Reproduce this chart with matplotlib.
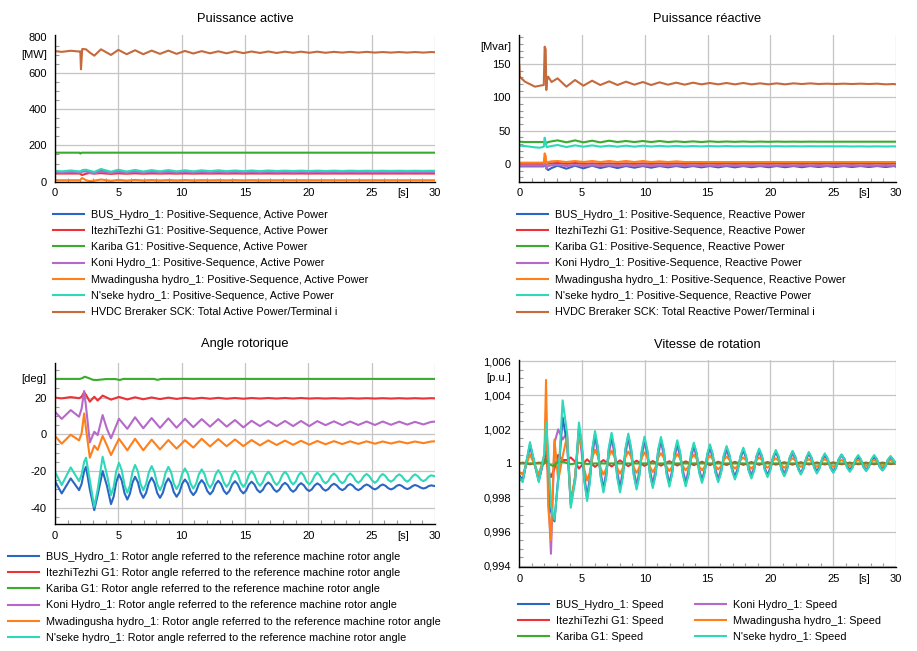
import matplotlib
matplotlib.use('Agg')
import matplotlib.pyplot as plt
from matplotlib.ticker import MultipleLocator

plt.rcParams['font.family'] = ['Liberation Sans', 'DejaVu Sans']
plt.rcParams['font.size'] = 8

# ---------------- colours ----------------
C_BLUE = '#2a66c4'
C_RED = '#ec3237'
C_GREEN = '#3aab2c'
C_PURPLE = '#b669c9'
C_ORANGE = '#ff7f1a'
C_CYAN = '#2fd8b8'
C_BROWN = '#c46a3c'

# ---------------- Active power (MW) ----------------
t_p = [0.0, 0.53, 1.24, 1.9, 2.0, 2.05, 2.15, 2.45, 2.75, 3.1, 3.63, 4.42, 5.0, 5.66, 6.32, 6.97,
       7.63, 8.29, 8.95, 9.6, 10.26, 10.92, 11.58, 12.24, 12.89, 13.55, 14.21, 14.87, 15.52, 16.18,
       16.84, 17.5, 18.16, 18.8, 19.42, 20.07, 20.71, 21.36, 22.02, 22.68, 23.3, 23.94, 24.6, 25.26,
       25.87, 26.52, 27.18, 27.81, 28.42, 29.08, 29.7, 30.0]
p_bus = [54, 51, 56, 51, 52, 50, 58, 60, 52, 47, 62, 48, 59, 49, 58, 50, 57, 50, 57, 51,
         56, 51, 56, 52, 56, 52, 55, 52, 55, 52, 55, 53, 55, 53, 55, 53, 54.5, 53, 54.5, 53,
         54.5, 53.5, 54.5, 53.5, 54.5, 53.5, 54.5, 53.5, 54.5, 53.5, 54.5, 54]
p_itezhi = [45, 45, 45, 45, 45, 40, 37, 44, 48, 45, 47, 43, 46, 44, 46, 44, 45.5, 44.5, 45.5, 44.5,
            45.5, 44.5, 45.3, 44.7, 45.3, 44.7, 45.3, 44.7, 45.2, 44.8, 45.2, 44.8, 45.2, 44.8, 45.2,
            44.8, 45.1, 44.9, 45.1, 44.9, 45.1, 44.9, 45.1, 44.9, 45, 45, 45, 45, 45, 45, 45, 45]
t_p_kariba = [0.0, 1.95, 2.0, 2.1, 30.0]
p_kariba = [160, 160, 155, 160, 160]
p_koni = [52, 50, 53, 50, 51, 48, 56, 57, 48, 45, 58, 47, 56, 48, 55, 49, 55, 49, 54, 50,
          54, 50, 54, 50, 54, 50, 53.5, 50.5, 53.5, 50.5, 53.5, 51, 53, 51, 53, 51, 53, 51, 52.5, 51.5,
          52.5, 51.5, 52.5, 51.5, 52.5, 51.5, 52.5, 51.5, 52.5, 51.5, 52.5, 52]
p_mwad = [8, 8, 8, 8, 8, 14, 20, 8, 3, 6, 12, 5, 10, 6, 10, 7, 9, 7, 9, 7,
          9, 7, 8.5, 7.5, 8.5, 7.5, 8.5, 7.5, 8.5, 7.5, 8, 8, 8, 8, 8, 8, 8, 8, 8, 8,
          8, 8, 8, 8, 8, 8, 8, 8, 8, 8, 8, 8]
p_nseke = [60, 57, 62, 57, 58, 55, 64, 66, 60, 54, 70, 55, 66, 56, 65, 56, 64, 57, 64, 57,
           63, 57, 63, 58, 63, 58, 62, 58, 62, 58, 62, 59, 61, 59, 61, 59, 61, 59, 61, 59,
           61, 59.5, 60.5, 59.5, 60.5, 59.5, 60.5, 59.5, 60.5, 59.5, 60.5, 60]
p_hvdc = [720, 716, 722, 718, 719, 620, 732, 730, 712, 695, 730, 699, 727, 703, 725, 703, 723, 705,
          723, 705, 721, 707, 720, 708, 719, 708, 719, 709, 718, 710, 718, 710, 717, 711, 717, 711,
          717, 711, 716, 712, 716, 712, 716, 712, 715, 712, 715, 712, 715, 712, 715, 714]

# ---------------- Reactive power (Mvar) ----------------
t_q = [0.0, 0.03, 0.45, 1.25, 1.65, 1.95, 2.02, 2.1, 2.15, 2.2, 2.3, 2.57, 3.05, 3.75, 4.44, 5.1,
       5.8, 6.45, 7.16, 7.82, 8.5, 9.17, 9.84, 10.5, 11.17, 11.84, 12.5, 13.17, 13.84, 14.5, 15.17,
       15.84, 16.5, 17.17, 17.84, 18.5, 19.17, 19.84, 20.5, 21.17, 21.84, 22.5, 23.17, 23.84, 24.5,
       25.17, 25.84, 26.5, 27.17, 27.84, 28.5, 29.17, 29.84, 30.0]
q_bus = [-3.5, -3.5, -3.5, -3.5, -3.5, -3.5, 2.0, -2.0, -5.0, -7.5,
         -9.0, -6.0, -2.5, -7.0, -2.5, -6.5, -2.5, -6.0, -3.0, -6.0,
         -3.0, -5.5, -3.0, -5.5, -3.0, -5.0, -3.0, -5.0, -3.0, -5.0,
         -3.0, -5.0, -3.0, -5.0, -3.0, -4.8, -3.0, -4.8, -3.0, -4.8,
         -3.0, -4.8, -3.0, -4.5, -3.0, -4.5, -3.0, -4.5, -3.0, -4.5,
         -3.0, -4.5, -3.0, -4.0]
q_itezhi = [0.5, 0.5, 0.5, 0.5, 0.5, 0.5, 8.0, 5.0, -1.0, 0.0,
            1.0, 1.0, 1.5, 0.5, 1.5, 0.5, 1.0, 0.5, 1.0, 0.5,
            1.0, 0.5, 1.0, 0.5, 1.0, 0.5, 1.0, 0.5, 1.0, 0.5,
            1.0, 0.5, 1.0, 0.5, 1.0, 0.5, 1.0, 0.5, 1.0, 0.5,
            1.0, 0.5, 1.0, 0.5, 1.0, 0.5, 1.0, 0.5, 1.0, 0.5,
            1.0, 0.5, 1.0, 0.5]
q_kariba = [33.5, 33.5, 33.0, 33.0, 33.0, 33.0, 34.0, 32.0, 31.5, 32.0,
            33.0, 34.0, 35.5, 32.5, 35.5, 32.5, 35.0, 32.5, 35.0, 33.0,
            34.5, 33.0, 34.5, 33.0, 34.5, 33.0, 34.0, 33.0, 34.0, 33.0,
            34.0, 33.2, 33.8, 33.3, 33.8, 33.3, 33.7, 33.3, 33.7, 33.4,
            33.6, 33.4, 33.6, 33.5, 33.5, 33.5, 33.5, 33.5, 33.5, 33.5,
            33.5, 33.5, 33.5, 33.5]
q_koni = [-2.5, -2.5, -2.5, -2.5, -2.5, -2.5, 6.0, 2.0, -7.0, -5.0,
          -3.0, -2.0, -1.5, -3.0, -1.5, -3.0, -2.0, -3.0, -2.0, -3.0,
          -2.0, -2.8, -2.2, -2.8, -2.2, -2.8, -2.2, -2.7, -2.3, -2.7,
          -2.3, -2.7, -2.3, -2.6, -2.4, -2.6, -2.4, -2.6, -2.4, -2.5,
          -2.5, -2.5, -2.5, -2.5, -2.5, -2.5, -2.5, -2.5, -2.5, -2.5,
          -2.5, -2.5, -2.5, -2.5]
q_mwad = [2.0, 2.0, 2.0, 2.0, 2.0, 2.0, 16.0, 12.0, 2.0, 0.5,
          3.0, 4.0, 4.5, 3.0, 4.5, 3.0, 4.5, 3.0, 4.5, 3.0,
          4.5, 3.0, 4.5, 3.0, 4.0, 3.0, 4.0, 3.0, 3.0, 3.0,
          3.0, 3.0, 3.0, 3.0, 3.0, 3.0, 3.0, 3.0, 3.0, 3.0,
          3.0, 3.0, 3.0, 3.0, 3.0, 3.0, 3.0, 3.0, 3.0, 3.0,
          3.0, 3.0, 3.0, 3.0]
q_nseke = [27.5, 27.5, 27.0, 25.0, 24.5, 26.0, 39.5, 33.0, 27.0, 25.0,
           26.0, 27.0, 28.5, 25.5, 28.0, 26.0, 28.0, 26.0, 27.5, 26.0,
           27.5, 26.0, 27.5, 26.2, 27.3, 26.3, 27.2, 26.3, 27.0, 26.4,
           27.0, 26.5, 27.0, 26.5, 26.8, 26.5, 26.8, 26.5, 26.8, 26.5,
           26.7, 26.5, 26.7, 26.5, 26.6, 26.5, 26.6, 26.3, 26.5, 26.3,
           26.5, 26.3, 26.5, 26.3]
q_hvdc = [148, 131, 123.5, 116, 117.5, 118.5, 176, 172, 111, 125,
          131, 123, 128.5, 116, 126, 117.5, 125, 118.5, 124, 118.5,
          123.5, 119, 123, 118.5, 122.5, 119, 122, 119, 122, 119.5,
          121.5, 119.5, 121.5, 119.5, 121.5, 119.5, 121, 119.5, 121, 119.5,
          121, 120, 121, 120, 120.5, 120, 120.5, 120, 120.5, 120,
          120.5, 119.5, 120, 119.5]

# ---------------- Rotor angle (deg) ----------------
t_ang = [0.0, 0.53, 1.24, 1.9, 2.1, 2.3, 2.45, 2.75, 3.1, 3.37, 3.76, 4.1, 4.42, 5.05, 5.71, 6.32,
         6.97, 7.63, 8.29, 8.95, 9.6, 10.26, 10.92, 11.58, 12.24, 12.89, 13.55, 14.21, 14.87, 15.52,
         16.18, 16.84, 17.5, 18.16, 18.8, 19.42, 20.07, 20.71, 21.36, 22.02, 22.68, 23.3, 23.94,
         24.6, 25.26, 25.87, 26.52, 27.18, 27.81, 28.42, 29.08, 29.7, 30.0]
t_ang_fine = [0.0, 0.53, 1.24, 1.9, 2.1, 2.3, 2.45, 2.75, 3.1, 3.37, 3.76, 4.1,
              4.42, 4.63, 4.84, 5.05, 5.27, 5.49, 5.71, 5.91, 6.12, 6.32, 6.54, 6.75,
              6.97, 7.19, 7.41, 7.63, 7.85, 8.07, 8.29, 8.51, 8.73, 8.95, 9.17, 9.38,
              9.6, 9.82, 10.04, 10.26, 10.48, 10.7, 10.92, 11.14, 11.36, 11.58, 11.8, 12.02,
              12.24, 12.46, 12.67, 12.89, 13.11, 13.33, 13.55, 13.77, 13.99, 14.21, 14.43, 14.65,
              14.87, 15.09, 15.3, 15.52, 15.74, 15.96, 16.18, 16.4, 16.62, 16.84, 17.06, 17.28,
              17.5, 17.72, 17.94, 18.16, 18.37, 18.59, 18.8, 19.01, 19.21, 19.42, 19.64, 19.85,
              20.07, 20.28, 20.5, 20.71, 20.93, 21.14, 21.36, 21.58, 21.8, 22.02, 22.24, 22.46,
              22.68, 22.89, 23.09, 23.3, 23.51, 23.73, 23.94, 24.16, 24.38, 24.6, 24.82, 25.04,
              25.26, 25.46, 25.67, 25.87, 26.09, 26.3, 26.52, 26.74, 26.96, 27.18, 27.39, 27.6,
              27.81, 28.01, 28.22, 28.42, 28.64, 28.86, 29.08, 29.29, 29.49, 29.7, 30.0]
ang_bus = [-25.5, -32.2, -24.0, -30.4, -27.0, -20.0, -17.7, -30.0, -41.3, -33.0, -20.0, -28.0,
           -38.0, -34.0, -25.9, -21.8, -25.2, -32.1, -35.5, -32.4, -26.2, -23.1, -26.0, -31.7,
           -34.6, -31.9, -26.4, -23.6, -26.4, -31.9, -34.6, -31.9, -26.7, -24.0, -26.5, -31.5,
           -34.0, -31.7, -26.9, -24.6, -26.7, -31.0, -33.1, -31.1, -27.0, -24.9, -26.9, -30.8,
           -32.7, -30.9, -27.2, -25.3, -27.1, -30.7, -32.5, -30.8, -27.3, -25.5, -27.2, -30.5,
           -32.2, -30.6, -27.4, -25.8, -27.3, -30.2, -31.6, -30.3, -27.6, -26.2, -27.5, -30.0,
           -31.3, -30.1, -27.6, -26.4, -27.6, -30.1, -31.3, -30.1, -27.8, -26.6, -27.7, -29.8,
           -30.9, -29.9, -27.8, -26.7, -27.7, -29.7, -30.7, -29.8, -27.9, -26.9, -27.8, -29.5,
           -30.4, -29.6, -27.9, -27.1, -27.9, -29.6, -30.4, -29.6, -28.1, -27.3, -28.0, -29.3,
           -30.0, -29.3, -28.0, -27.3, -28.0, -29.3, -30.0, -29.4, -28.1, -27.5, -28.1, -29.2,
           -29.8, -29.3, -28.2, -27.6, -28.1, -29.0, -29.5, -29.1, -28.2, -27.8, -28.2]
ang_itezhi = [20.0, 19.6, 20.3, 19.7, 20.5, 22.9, 21.5, 17.8, 20.5, 18.4,
              21.1, 20.0, 18.9, 20.4, 19.0, 20.2, 19.1, 20.1, 19.2, 20.0,
              19.3, 19.9, 19.4, 19.9, 19.4, 19.9, 19.4, 19.8, 19.4, 19.8,
              19.5, 19.8, 19.5, 19.8, 19.5, 19.8, 19.5, 19.7, 19.5, 19.7,
              19.5, 19.7, 19.5, 19.7, 19.5, 19.7, 19.5, 19.7, 19.5, 19.7,
              19.5, 19.7, 19.6]
t_ang_kariba = [0.0, 1.95, 2.15, 2.35, 2.6, 3.0, 3.3, 4.0, 4.8, 5.1, 5.4, 7.8, 8.1, 8.4, 30.0]
ang_kariba = [30.2, 30.2, 30.6, 31.4, 30.8, 29.7, 29.6, 30.1, 30.1, 29.6, 30.2, 30.2, 29.7, 30.2, 30.2]
ang_koni = [12.3, 8.4, 13.2, 9.6, 14.0, 23.6, 15.0, -4.4, 1.4, -0.4,
            10.5, 3.0, -2.2, 8.5, 3.0, 9.3, 3.3, 8.9, 3.5, 8.7,
            3.6, 8.5, 3.9, 8.3, 4.2, 8.3, 4.2, 7.8, 3.8, 7.4,
            4.5, 7.3, 4.5, 7.3, 4.5, 7.3, 4.5, 7.2, 5.0, 7.1,
            5.0, 7.0, 5.1, 7.0, 5.1, 7.0, 5.2, 6.9, 5.3, 6.8,
            5.4, 6.8, 6.9]
ang_mwad = [-0.9, -5.1, -0.2, -3.3, 0.5, 11.4, 3.0, -12.7, -6.2, -8.5,
            -0.9, -6.0, -11.3, -2.4, -8.7, -2.4, -8.7, -2.9, -8.2, -3.1,
            -7.8, -3.2, -7.2, -2.4, -6.6, -2.6, -6.5, -2.8, -6.4, -3.1,
            -6.0, -3.3, -5.8, -3.4, -5.7, -3.5, -5.6, -3.6, -5.4, -3.7,
            -5.3, -3.8, -5.2, -3.8, -5.1, -3.9, -5.0, -3.9, -4.9, -3.9,
            -4.8, -3.9, -3.8]
ang_nseke = [-20.4, -27.6, -18.0, -25.5, -22.0, -15.0, -12.7, -25.0, -39.5, -30.0, -12.2, -22.0,
             -33.1, -28.7, -19.9, -15.5, -19.6, -27.7, -31.8, -28.0, -20.5, -16.7, -20.1, -27.0,
             -30.4, -27.1, -20.6, -17.3, -20.6, -27.1, -30.4, -27.2, -20.9, -17.7, -20.7, -26.8,
             -29.8, -27.0, -21.4, -18.6, -21.3, -26.8, -29.5, -26.9, -21.7, -19.1, -21.6, -26.6,
             -29.1, -26.7, -21.9, -19.5, -21.8, -26.3, -28.6, -26.4, -22.0, -19.8, -22.0, -26.4,
             -28.6, -26.5, -22.2, -20.0, -22.0, -26.0, -28.0, -26.1, -22.3, -20.4, -22.2, -25.8,
             -27.6, -25.8, -22.2, -20.4, -22.1, -25.6, -27.3, -25.7, -22.4, -20.7, -22.4, -25.7,
             -27.3, -25.7, -22.5, -20.9, -22.4, -25.3, -26.7, -25.4, -22.7, -21.3, -22.7, -25.4,
             -26.7, -25.4, -22.7, -21.3, -22.6, -25.1, -26.4, -25.2, -22.8, -21.6, -22.8, -25.2,
             -26.4, -25.2, -22.8, -21.6, -22.7, -24.8, -25.8, -24.8, -22.8, -21.8, -22.8, -24.8,
             -25.8, -24.8, -22.8, -21.8, -22.7, -24.6, -25.5, -24.7, -23.1, -22.3, -22.9]

# ---------------- Speed (p.u.) ----------------
t_spd = [0.0, 0.27, 0.85, 1.55, 2.0, 2.13, 2.3, 2.52, 2.8, 3.1, 3.45, 3.8, 4.1, 4.45, 4.75, 5.4,
         6.03, 6.7, 7.35, 8.02, 8.68, 9.34, 9.97, 10.63, 11.28, 11.95, 12.58, 13.25, 13.9, 14.55,
         15.18, 15.84, 16.51, 17.17, 17.84, 18.48, 19.1, 19.77, 20.43, 21.1, 21.76, 22.42, 23.06,
         23.7, 24.33, 25.0, 25.66, 26.32, 26.99, 27.62, 28.26, 28.92, 29.57, 30.0]
t_spd_fine = [0.0, 0.27, 0.85, 1.55, 2.0, 2.13, 2.3, 2.52, 2.8, 3.1, 3.45, 3.8, 4.1, 4.45,
              4.75, 4.97, 5.18, 5.4, 5.61, 5.82, 6.03, 6.25, 6.48, 6.7, 6.92, 7.13,
              7.35, 7.57, 7.8, 8.02, 8.24, 8.46, 8.68, 8.9, 9.12, 9.34, 9.55, 9.76,
              9.97, 10.19, 10.41, 10.63, 10.85, 11.06, 11.28, 11.5, 11.73, 11.95, 12.16, 12.37,
              12.58, 12.8, 13.03, 13.25, 13.47, 13.68, 13.9, 14.12, 14.33, 14.55, 14.76, 14.97,
              15.18, 15.4, 15.62, 15.84, 16.06, 16.29, 16.51, 16.73, 16.95, 17.17, 17.39, 17.62,
              17.84, 18.05, 18.27, 18.48, 18.69, 18.89, 19.1, 19.32, 19.55, 19.77, 19.99, 20.21,
              20.43, 20.65, 20.88, 21.1, 21.32, 21.54, 21.76, 21.98, 22.2, 22.42, 22.63, 22.85,
              23.06, 23.27, 23.49, 23.7, 23.91, 24.12, 24.33, 24.55, 24.78, 25.0, 25.22, 25.44,
              25.66, 25.88, 26.1, 26.32, 26.54, 26.77, 26.99, 27.2, 27.41, 27.62, 27.83, 28.05,
              28.26, 28.48, 28.7, 28.92, 29.14, 29.35, 29.57, 29.79, 30.0]
spd_bus = [0.9993, 0.9990, 1.0011, 0.9990, 1.0004, 1.0007, 0.9995, 0.9972, 0.9966, 0.9992,
           1.0027, 1.0012, 0.9976, 0.9992,
           1.0021, 1.00108, 0.99902, 0.998, 0.99892, 1.00078, 1.0017, 1.0009, 0.9993,
           0.9985, 0.99927, 1.00083, 1.0016, 1.00083, 0.99927, 0.9985, 0.99927, 1.00083,
           1.0016, 1.00085, 0.99935, 0.9986, 0.9993, 1.0007, 1.0014, 1.00073, 0.99937,
           0.9987, 0.99937, 1.00073, 1.0014, 1.00075, 0.99945, 0.9988, 0.9994, 1.0006,
           1.0012, 1.0006, 0.9994, 0.9988, 0.99937, 1.00053, 1.0011, 1.00058, 0.99952,
           0.999, 0.9995, 1.0005, 1.001, 1.0005, 0.9995, 0.999, 0.99947, 1.00043,
           1.0009, 1.00048, 0.99962, 0.9992, 0.9996, 1.0004, 1.0008, 1.0004, 0.9996,
           0.9992, 0.9996, 1.0004, 1.0008, 1.00043, 0.99967, 0.9993, 0.99965, 1.00035,
           1.0007, 1.00035, 0.99965, 0.9993, 0.99965, 1.00035, 1.0007, 1.00038, 0.99972,
           0.9994, 0.9997, 1.0003, 1.0006, 1.00033, 0.99977, 0.9995, 0.99975, 1.00025,
           1.0005, 1.00025, 0.99975, 0.9995, 0.99975, 1.00025, 1.0005, 1.00028, 0.99982,
           0.9996, 0.9998, 1.0002, 1.0004, 1.0002, 0.9998, 0.9996, 0.9998, 1.0002,
           1.0004, 1.0002, 0.9998, 0.9996, 0.9998, 1.0002, 1.0004, 1.0002, 1.0]
spd_itezhi = [1.0, 1.00005, 0.99995, 1.00005, 1.0, 1.0003, 0.9996, 0.9992, 0.9997, 1.0005,
              1.0002, 1.0002, 1.00035, 1.0001, 0.9997, 1.00024, 0.9998, 1.0002, 0.99982, 1.00018,
              0.99984, 1.00016, 0.99986, 1.00014, 0.99987, 1.00013, 0.99988, 1.00012, 0.9999, 1.0001,
              0.9999, 1.0001, 0.99991, 1.00009, 0.99992, 1.00008, 0.99992, 1.00008, 0.99993, 1.00007,
              0.99993, 1.00007, 0.99994, 1.00006, 0.99994, 1.00006, 0.99995, 1.00005, 0.99995, 1.00005,
              0.99995, 1.00005, 0.99996, 1.0]
t_spd_kariba = [0.0, 2.0, 2.13, 2.4, 2.7, 3.1, 3.5, 4.1, 4.75, 5.4, 6.0, 30.0]
spd_kariba = [1.0, 1.0, 1.0002, 0.99995, 0.99985, 1.0001, 1.0001, 0.99995, 1.00004, 0.99997, 1.0, 1.0]
spd_koni = [0.9993, 0.9990, 1.0010, 0.9990, 1.0003, 1.0030, 0.9985, 0.9947, 1.0012, 1.0020,
            1.0014, 1.0018, 0.9978, 0.9990, 1.0019, 0.9980, 1.0016, 0.9985, 1.0015, 0.9986,
            1.0015, 0.9987, 1.0013, 0.9988, 1.0013, 0.9988, 1.0011, 0.9989, 1.0010, 0.9990,
            1.0009, 0.9991, 1.0008, 0.9992, 1.0008, 0.9993, 1.0007, 0.9993, 1.0007, 0.9994,
            1.0006, 0.9994, 1.0006, 0.9995, 1.0005, 0.9995, 1.0005, 0.9996, 1.0004, 0.9996,
            1.0004, 0.9997, 1.0003, 1.0]
spd_mwad = [0.9995, 0.99935, 1.00053, 0.99935, 1.0005, 1.0049, 0.9975, 0.9955, 1.0014, 0.9990,
            1.0004, 1.0016, 0.9976, 0.9993,
            1.0016, 1.00095, 0.99965, 0.999, 0.99945, 1.00035, 1.0008, 1.00044, 0.99971,
            0.99935, 0.9997, 1.0004, 1.00075, 1.00041, 0.99974, 0.9994, 0.99972, 1.00038,
            1.0007, 1.00039, 0.99976, 0.99945, 0.99975, 1.00035, 1.00065, 1.00036, 0.99979,
            0.9995, 0.99977, 1.00033, 1.0006, 1.00034, 0.99981, 0.99955, 0.9998, 1.0003,
            1.00055, 1.00031, 0.99984, 0.9996, 0.99982, 1.00028, 1.0005, 1.00028, 0.99982,
            0.9996, 0.99981, 1.00024, 1.00045, 1.00025, 0.99985, 0.99965, 0.99984, 1.00021,
            1.0004, 1.00023, 0.99987, 0.9997, 0.99986, 1.00019, 1.00035, 1.00019, 0.99986,
            0.9997, 0.99986, 1.00019, 1.00035, 1.0002, 0.9999, 0.99975, 0.99989, 1.00016,
            1.0003, 1.00016, 0.99989, 0.99975, 0.99989, 1.00016, 1.0003, 1.00018, 0.99992,
            0.9998, 0.99991, 1.00014, 1.00025, 1.00014, 0.99991, 0.9998, 0.99991, 1.00014,
            1.00025, 1.00014, 0.99991, 0.9998, 0.9999, 1.0001, 1.0002, 1.00011, 0.99994,
            0.99985, 0.99994, 1.00011, 1.0002, 1.00011, 0.99994, 0.99985, 0.99994, 1.00011,
            1.0002, 1.00011, 0.99994, 0.99985, 0.99994, 1.00011, 1.0002, 1.0001, 1.0]
spd_nseke = [0.9992, 0.9989, 1.00125, 0.9989, 1.0006, 1.0024, 1.0008, 0.9975, 0.9967, 0.9990,
             1.0037, 1.0018, 0.9974, 0.9990,
             1.0024, 1.00125, 0.99895, 0.9978, 0.99882, 1.00088, 1.0019, 1.001, 0.9992,
             0.9983, 0.99917, 1.00093, 1.0018, 1.00093, 0.99917, 0.9983, 0.99916, 1.00089,
             1.00175, 1.00093, 0.99929, 0.99847, 0.99924, 1.0008, 1.00157, 1.00082, 0.99931,
             0.99856, 0.99931, 1.0008, 1.00155, 1.00082, 0.99937, 0.99864, 0.99932, 1.00068,
             1.00136, 1.00069, 0.99933, 0.99866, 0.9993, 1.00058, 1.00122, 1.00063, 0.99945,
             0.99886, 0.99942, 1.00056, 1.00112, 1.00057, 0.99945, 0.9989, 0.99943, 1.00049,
             1.00102, 1.00053, 0.99955, 0.99906, 0.99952, 1.00046, 1.00092, 1.00047, 0.99957,
             0.99912, 0.99956, 1.00043, 1.00087, 1.00045, 0.99962, 0.9992, 0.9996, 1.00039,
             1.00079, 1.00041, 0.99963, 0.99925, 0.99962, 1.00036, 1.00073, 1.00039, 0.99969,
             0.99935, 0.99968, 1.00034, 1.00067, 1.00036, 0.99972, 0.99941, 0.9997, 1.0003,
             1.00059, 1.00031, 0.99973, 0.99945, 0.99972, 1.00026, 1.00053, 1.00028, 0.99976,
             0.99951, 0.99975, 1.00025, 1.00049, 1.00026, 0.99978, 0.99955, 0.99978, 1.00026,
             1.00049, 1.00027, 0.99981, 0.99959, 0.9998, 1.00022, 1.00043, 1.0002, 1.0]

# ---------------- texts ----------------
x_ticks = [0, 5, 10, 15, 20, 25, 30]
x_tick_labels = ['0', '5', '10', '15', '20', '25', '30']

lab_p = ['BUS_Hydro_1: Positive-Sequence, Active Power',
         'ItezhiTezhi G1: Positive-Sequence, Active Power',
         'Kariba G1: Positive-Sequence, Active Power',
         'Koni Hydro_1: Positive-Sequence, Active Power',
         'Mwadingusha hydro_1: Positive-Sequence, Active Power',
         "N'seke hydro_1: Positive-Sequence, Active Power",
         'HVDC Breraker SCK: Total Active Power/Terminal i']
lab_q = ['BUS_Hydro_1: Positive-Sequence, Reactive Power',
         'ItezhiTezhi G1: Positive-Sequence, Reactive Power',
         'Kariba G1: Positive-Sequence, Reactive Power',
         'Koni Hydro_1: Positive-Sequence, Reactive Power',
         'Mwadingusha hydro_1: Positive-Sequence, Reactive Power',
         "N'seke hydro_1: Positive-Sequence, Reactive Power",
         'HVDC Breraker SCK: Total Reactive Power/Terminal i']
lab_a = ['BUS_Hydro_1: Rotor angle referred to the reference machine rotor angle',
         'ItezhiTezhi G1: Rotor angle referred to the reference machine rotor angle',
         'Kariba G1: Rotor angle referred to the reference machine rotor angle',
         'Koni Hydro_1: Rotor angle referred to the reference machine rotor angle',
         'Mwadingusha hydro_1: Rotor angle referred to the reference machine rotor angle',
         "N'seke hydro_1: Rotor angle referred to the reference machine rotor angle"]
lab_s = ['BUS_Hydro_1: Speed', 'ItezhiTezhi G1: Speed', 'Kariba G1: Speed',
         'Koni Hydro_1: Speed', 'Mwadingusha hydro_1: Speed', "N'seke hydro_1: Speed"]

W, H = 917, 651
fig = plt.figure(figsize=(W / 100, H / 100), dpi=100)


def px_axes(x0, x1, ytop, ybot):
    return fig.add_axes([x0 / W, 1 - ybot / H, (x1 - x0) / W, (ybot - ytop) / H])


def style(ax, ylim, yticks, ylabels, yminor, unit, unit_y):
    ax.set_xlim(0, 30)
    ax.set_ylim(*ylim)
    ax.set_xticks(x_ticks)
    ax.set_xticklabels(x_tick_labels)
    ax.xaxis.set_minor_locator(MultipleLocator(1))
    ax.set_yticks(yticks)
    ax.set_yticklabels(ylabels)
    ax.yaxis.set_minor_locator(MultipleLocator(yminor))
    ax.grid(True, which='major', color='#c4c4c4', lw=0.9)
    ax.set_axisbelow(True)
    ax.tick_params(which='both', direction='in', color='#9a9a9a', labelcolor='black', labelsize=8)
    ax.tick_params(which='minor', length=3, width=0.8)
    ax.tick_params(which='major', length=0)
    ax.tick_params(axis='y', pad=6)
    ax.tick_params(axis='x', pad=4.5)
    for s in ('top', 'right'):
        ax.spines[s].set_visible(False)
    for s in ('left', 'bottom'):
        ax.spines[s].set_color('black')
        ax.spines[s].set_linewidth(1.0)
    ax.annotate(unit, xy=(0, unit_y), xycoords=('axes fraction', 'data'),
                xytext=(-6, 0), textcoords='offset points', ha='right', va='center', fontsize=8)
    ax.annotate('[s]', xy=(27.5, 0), xycoords=('data', 'axes fraction'),
                xytext=(0, -4.5), textcoords='offset points', ha='center', va='top', fontsize=8)


LW = 1.5

# ---- Puissance active ----
ax1 = px_axes(55, 435, 35, 181.7)
h1 = []
h1 += ax1.plot(t_p, p_bus, color=C_BLUE, lw=LW)
h1 += ax1.plot(t_p, p_itezhi, color=C_RED, lw=LW)
h1 += ax1.plot(t_p_kariba, p_kariba, color=C_GREEN, lw=LW)
h1 += ax1.plot(t_p, p_koni, color=C_PURPLE, lw=LW)
h1 += ax1.plot(t_p, p_mwad, color=C_ORANGE, lw=LW)
h1 += ax1.plot(t_p, p_nseke, color=C_CYAN, lw=LW)
h1 += ax1.plot(t_p, p_hvdc, color=C_BROWN, lw=LW)
style(ax1, (0, 809), [0, 200, 400, 600, 800], ['0', '200', '400', '600', '800'], 50, '[MW]', 700)

# ---- Puissance réactive ----
ax2 = px_axes(519.3, 896, 35, 181.7)
h2 = []
h2 += ax2.plot(t_q, q_bus, color=C_BLUE, lw=LW)
h2 += ax2.plot(t_q, q_itezhi, color=C_RED, lw=LW)
h2 += ax2.plot(t_q, q_kariba, color=C_GREEN, lw=LW)
h2 += ax2.plot(t_q, q_koni, color=C_PURPLE, lw=LW)
h2 += ax2.plot(t_q, q_mwad, color=C_ORANGE, lw=LW)
h2 += ax2.plot(t_q, q_nseke, color=C_CYAN, lw=LW)
h2 += ax2.plot(t_q, q_hvdc, color=C_BROWN, lw=LW)
style(ax2, (-26.5, 193.5), [0, 50, 100, 150], ['0', '50', '100', '150'], 10, '[Mvar]', 176)

# ---- Angle rotorique ----
ax3 = px_axes(55, 435, 363.3, 524.3)
h3 = []
h3 += ax3.plot(t_ang_fine, ang_bus, color=C_BLUE, lw=LW)
h3 += ax3.plot(t_ang, ang_itezhi, color=C_RED, lw=LW)
h3 += ax3.plot(t_ang_kariba, ang_kariba, color=C_GREEN, lw=LW)
h3 += ax3.plot(t_ang, ang_koni, color=C_PURPLE, lw=LW)
h3 += ax3.plot(t_ang, ang_mwad, color=C_ORANGE, lw=LW)
h3 += ax3.plot(t_ang_fine, ang_nseke, color=C_CYAN, lw=LW)
style(ax3, (-49, 38.7), [-40, -20, 0, 20], ['-40', '-20', '0', '20'], 5, '[deg]', 30)

# ---- Vitesse de rotation ----
ax4 = px_axes(519.3, 896, 360, 567.4)
h4 = []
h4 += ax4.plot(t_spd_fine, spd_bus, color=C_BLUE, lw=LW, zorder=2.0)
h4 += ax4.plot(t_spd, spd_itezhi, color=C_RED, lw=LW, zorder=2.2)
h4 += ax4.plot(t_spd_kariba, spd_kariba, color=C_GREEN, lw=LW, zorder=2.4)
h4 += ax4.plot(t_spd, spd_koni, color=C_PURPLE, lw=LW, zorder=1.9)
h4 += ax4.plot(t_spd_fine, spd_mwad, color=C_ORANGE, lw=LW, zorder=2.3)
h4 += ax4.plot(t_spd_fine, spd_nseke, color=C_CYAN, lw=LW, zorder=2.5)
style(ax4, (0.9939, 1.00607), [0.994, 0.996, 0.998, 1.0, 1.002, 1.004, 1.006],
      ['0,994', '0,996', '0,998', '1', '1,002', '1,004', '1,006'], 0.0005, '[p.u.]', 1.005)

# hide horizontal grid line on top border of the active power plot
ax1.yaxis.get_major_ticks()[-1].gridline.set_visible(False)

# ---- titles ----
fig.text(245 / W, 1 - 18.5 / H, 'Puissance active', ha='center', va='center', fontsize=9.3)
fig.text(707.5 / W, 1 - 18.5 / H, 'Puissance réactive', ha='center', va='center', fontsize=9.3)
fig.text(245 / W, 1 - 344.5 / H, 'Angle rotorique', ha='center', va='center', fontsize=9.3)
fig.text(707.5 / W, 1 - 344.5 / H, 'Vitesse de rotation', ha='center', va='center', fontsize=9.3)

# ---- legends ----
leg_kw = dict(frameon=False, borderpad=0, borderaxespad=0, fontsize=7.85,
              handlelength=2.85, handletextpad=0.62, labelspacing=0.58)
fig.legend(h1, lab_p, loc='upper left', bbox_to_anchor=(53 / W, 1 - 209.5 / H), **leg_kw)
fig.legend(h2, lab_q, loc='upper left', bbox_to_anchor=(517 / W, 1 - 209.5 / H), **leg_kw)
fig.legend(h3, lab_a, loc='upper left', bbox_to_anchor=(8 / W, 1 - 551.5 / H), **leg_kw)
fig.legend(h4, lab_s, loc='upper left', bbox_to_anchor=(518 / W, 1 - 599.5 / H), ncol=2,
           columnspacing=2.9, **leg_kw)

fig.savefig('out.png', dpi=100)
